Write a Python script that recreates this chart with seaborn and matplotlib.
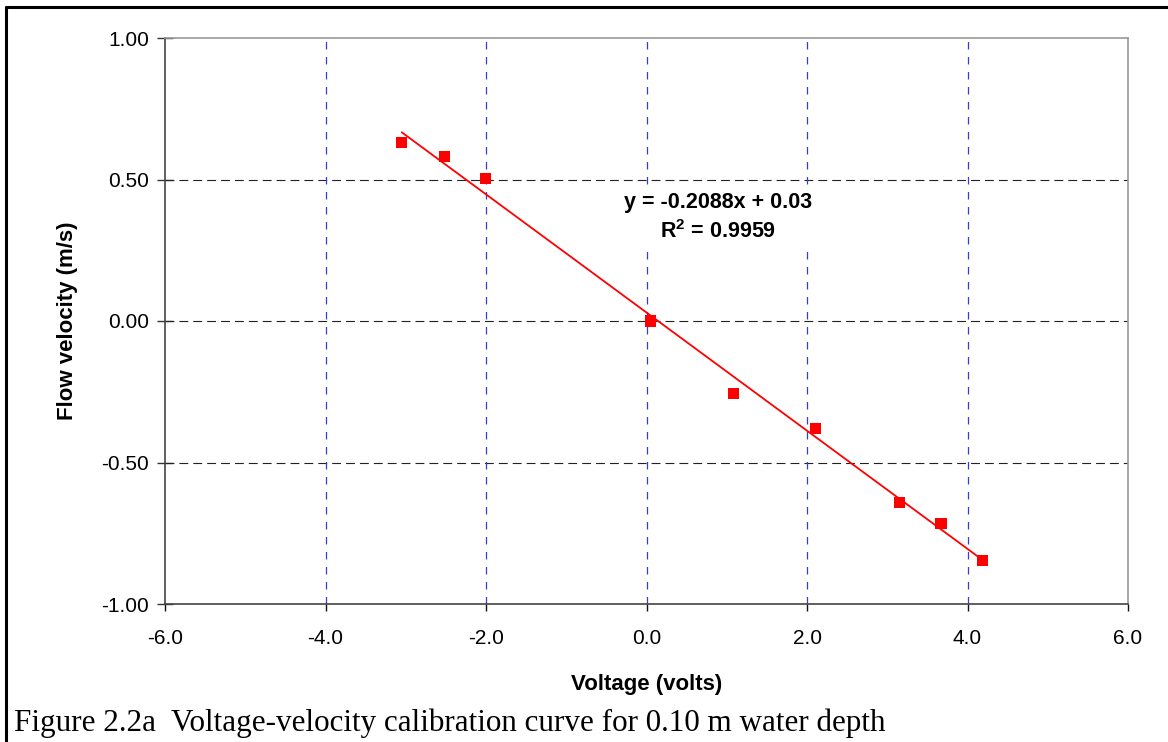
import numpy as np
import pandas as pd
import matplotlib
matplotlib.use("Agg")
import matplotlib.pyplot as plt
from matplotlib.lines import Line2D
import seaborn as sns

# ---- data ----
voltage = [-3.05, -2.52, -2.01, 0.05, 1.08, 2.11, 3.15, 3.67, 4.19]
velocity = [0.63, 0.58, 0.505, 0.00, -0.255, -0.38, -0.64, -0.715, -0.845]
slope = -0.2088
intercept = 0.03
r_squared = 0.9959
x_ticks = [-6.0, -4.0, -2.0, 0.0, 2.0, 4.0, 6.0]
y_ticks = [-1.00, -0.50, 0.00, 0.50, 1.00]
x_label = "Voltage (volts)"
y_label = "Flow velocity (m/s)"
caption = "Figure 2.2a  Voltage-velocity calibration curve for 0.10 m water depth"

sns.set_style("white")
plt.rcParams["font.family"] = ["Liberation Sans", "DejaVu Sans"]
plt.rcParams.update({
    "text.color": "black", "axes.labelcolor": "black",
    "xtick.color": "black", "ytick.color": "black",
    "mathtext.fontset": "custom", "mathtext.rm": "Liberation Sans",
    "mathtext.bf": "Liberation Sans:bold",
})

W, H = 1168, 742
fig = plt.figure(figsize=(W / 100, H / 100), dpi=100)
ax = fig.add_axes([165 / W, 1 - 604 / H, (1128 - 165) / W, (604 - 38) / H])

df = pd.DataFrame({"voltage": voltage, "velocity": velocity})
trend_x = [min(voltage), max(voltage)]
trend = pd.DataFrame({"voltage": trend_x,
                      "velocity": [slope * v + intercept for v in trend_x]})

# gridlines
for yv in y_ticks[1:-1]:
    ax.axhline(yv, color="#222222", lw=0.8, dashes=(8, 4.5), zorder=1)
for xv in x_ticks[1:-1]:
    ax.axvline(xv, color="#3c3cc8", lw=0.9, dashes=(6, 6), zorder=1,
               snap=True)

sns.lineplot(data=trend, x="voltage", y="velocity", color="#ff0000", lw=1.3,
             ax=ax, zorder=3)
sns.scatterplot(data=df, x="voltage", y="velocity", marker="s", color="#ff0000",
                s=64, edgecolor="none", ax=ax, zorder=4)

ax.set_xlim(x_ticks[0], x_ticks[-1])
ax.set_ylim(y_ticks[0], y_ticks[-1])
ax.set_xticks(x_ticks)
ax.set_xticklabels([f"{v:.1f}" for v in x_ticks])
ax.set_yticks(y_ticks)
ax.set_yticklabels([f"{v:.2f}" for v in y_ticks])
ax.tick_params(axis="y", direction="inout", length=11, width=1, color="#333333",
               labelsize=15, pad=6, left=True, labelcolor="black")
ax.tick_params(axis="x", direction="out", length=5, width=1, color="#111111",
               labelsize=15, pad=13, bottom=True, labelcolor="black")

for side in ["left", "bottom"]:
    ax.spines[side].set_color("#444444")
    ax.spines[side].set_linewidth(1.2)
for side in ["top", "right"]:
    ax.spines[side].set_color("#999999")
    ax.spines[side].set_linewidth(1.2)
    ax.spines[side].set_visible(True)

ax.set_xlabel(x_label, fontsize=16, fontweight="bold", labelpad=19, color="black")
ax.set_ylabel(y_label, fontsize=16, fontweight="bold", labelpad=17, color="black")

ax.text(0.89, 0.366,
        f"y = {slope:.4f}x + {intercept:.2f}\n" + r"R$^{\mathbf{2}}$" + f" = {r_squared:.4f}",
        ha="center", va="center", multialignment="center", color="black",
        fontsize=15.5, fontweight="bold", linespacing=1.4,
        bbox=dict(facecolor="white", edgecolor="none", pad=4), zorder=2)

# caption and figure frame
fig.text(14 / W, 1 - 731 / H, caption, family=["Liberation Serif", "DejaVu Serif"],
         fontsize=22.4, ha="left", va="baseline", color="black")
fig.add_artist(Line2D([6 / W, 1.0], [1 - 7 / H, 1 - 7 / H], color="black", lw=2.2,
                      transform=fig.transFigure))
fig.add_artist(Line2D([6 / W, 6 / W], [0, 1 - 7 / H], color="black", lw=2.2,
                      transform=fig.transFigure))

fig.savefig("out.png", dpi=100)
